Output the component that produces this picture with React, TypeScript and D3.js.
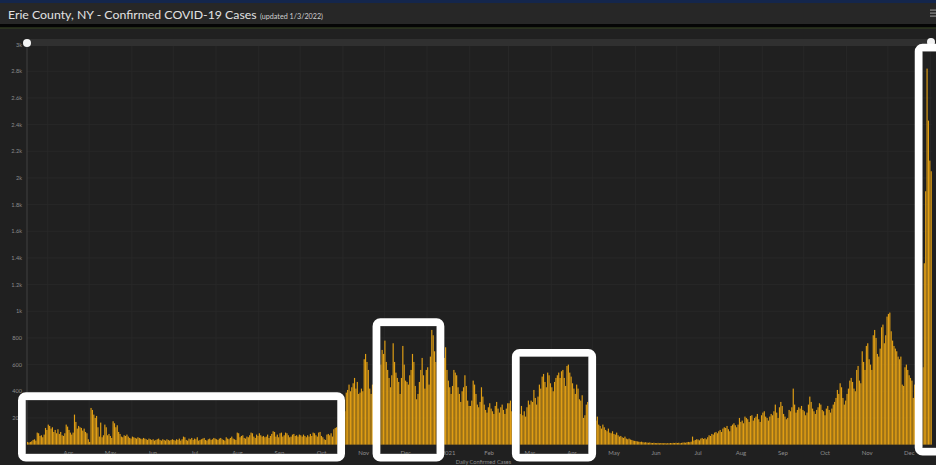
import * as d3 from 'd3'

// daily confirmed cases, Erie County NY
const mar20 = [20, 15, 20, 25, 35, 40, 30, 90, 85, 65, 70, 55, 75, 125, 110]
const apr20 = [150, 140, 120, 130, 95, 110, 85, 115, 80, 95, 70, 65, 85, 150, 135, 110, 90, 75, 90, 225, 170, 120, 140, 130, 125, 105, 120, 95, 85, 40]
const may20 = [20, 275, 260, 225, 200, 215, 130, 60, 165, 55, 70, 150, 130, 70, 80, 65, 50, 175, 160, 130, 145, 95, 80, 60, 55, 70, 65, 75, 60, 50, 45]
const jun20 = [60, 55, 50, 45, 55, 50, 45, 40, 50, 45, 40, 35, 45, 40, 35, 40, 30, 35, 40, 45, 35, 30, 40, 35, 30, 40, 35, 30, 35, 40]
const jul20 = [35, 30, 40, 35, 45, 30, 40, 60, 55, 35, 30, 45, 40, 50, 35, 45, 40, 55, 30, 35, 40, 45, 50, 35, 30, 40, 45, 35, 40, 50, 45]
const aug20 = [40, 35, 45, 50, 40, 35, 30, 55, 45, 40, 50, 60, 45, 40, 35, 90, 85, 55, 65, 70, 50, 45, 60, 55, 70, 90, 85, 60, 50, 75, 65]
const sep20 = [85, 70, 60, 65, 55, 60, 75, 50, 65, 80, 100, 95, 60, 75, 55, 85, 90, 60, 70, 90, 85, 70, 55, 60, 75, 80, 65, 70, 60, 75]
const oct20 = [70, 60, 75, 65, 55, 70, 60, 80, 65, 90, 85, 70, 60, 90, 95, 65, 55, 40, 35, 75, 80, 70, 85, 60, 115, 125, 130, 140, 180, 210, 250]
const nov20 = [260, 250, 390, 410, 450, 400, 430, 460, 500, 420, 470, 380, 390, 420, 400, 640, 680, 620, 560, 420, 380, 450, 500, 600, 550, 520, 480, 600, 710, 680]
const dec20 = [780, 620, 560, 500, 430, 520, 760, 620, 540, 500, 470, 380, 500, 740, 600, 480, 470, 450, 520, 560, 680, 620, 440, 340, 380, 470, 560, 650, 520, 420, 560]
const jan21 = [580, 450, 660, 860, 820, 700, 620, 600, 520, 500, 560, 680, 650, 730, 560, 480, 430, 380, 440, 560, 540, 520, 430, 380, 320, 400, 430, 520, 440, 330, 290]
const feb21 = [290, 330, 480, 450, 380, 300, 280, 320, 430, 360, 300, 260, 240, 280, 310, 270, 250, 230, 290, 320, 270, 240, 280, 300, 260, 230, 270, 310]
const mar21 = [310, 330, 250, 240, 200, 230, 290, 260, 230, 290, 220, 250, 210, 280, 330, 300, 330, 320, 410, 350, 300, 360, 450, 420, 510, 530, 470, 430, 540, 520, 460]
const apr21 = [430, 400, 470, 500, 520, 540, 500, 550, 560, 500, 440, 590, 600, 540, 510, 460, 420, 380, 450, 420, 340, 330, 370, 200, 220, 300, 320, 280, 260, 240]
const may21 = [230, 200, 180, 210, 150, 140, 120, 150, 130, 110, 100, 120, 90, 85, 100, 80, 75, 90, 70, 60, 65, 55, 50, 60, 45, 40, 45, 38, 35, 30, 28]
const jun21 = [26, 24, 22, 20, 22, 18, 16, 18, 15, 14, 16, 13, 12, 14, 12, 11, 13, 10, 12, 11, 10, 12, 9, 11, 10, 12, 11, 13, 12, 14]
const jul21 = [12, 14, 10, 13, 15, 16, 14, 18, 20, 18, 22, 60, 30, 35, 40, 38, 32, 45, 50, 42, 48, 40, 55, 70, 65, 80, 75, 90, 95, 85, 100]
const aug21 = [110, 95, 120, 130, 125, 140, 115, 100, 140, 150, 160, 145, 130, 150, 200, 170, 180, 160, 210, 200, 190, 170, 215, 220, 180, 200, 210, 230, 190, 170, 220]
const sep21 = [240, 250, 210, 200, 180, 210, 230, 220, 250, 300, 240, 200, 280, 320, 290, 230, 210, 190, 200, 260, 250, 280, 420, 300, 240, 260, 280, 270, 290, 260]
const oct21 = [250, 220, 240, 300, 360, 320, 270, 250, 230, 260, 280, 310, 300, 260, 250, 220, 270, 290, 260, 240, 270, 300, 320, 350, 410, 380, 460, 430, 350, 300, 330]
const nov21 = [380, 420, 480, 500, 470, 420, 400, 560, 590, 480, 460, 700, 620, 560, 740, 760, 640, 600, 560, 820, 860, 800, 680, 660, 720, 880, 900, 760, 820, 960]
const dec21 = [980, 990, 850, 780, 740, 720, 700, 660, 640, 660, 450, 440, 580, 600, 560, 520, 500, 480, 350, 450, 520, 600, 650, 700, 620, 580, 1360, 1900, 2820, 2430, 2130]
const jan22 = [2050]

const SERIES = [
  ['2020-03-17', mar20], ['2020-04-01', apr20], ['2020-05-01', may20], ['2020-06-01', jun20],
  ['2020-07-01', jul20], ['2020-08-01', aug20], ['2020-09-01', sep20], ['2020-10-01', oct20],
  ['2020-11-01', nov20], ['2020-12-01', dec20], ['2021-01-01', jan21], ['2021-02-01', feb21],
  ['2021-03-01', mar21], ['2021-04-01', apr21], ['2021-05-01', may21], ['2021-06-01', jun21],
  ['2021-07-01', jul21], ['2021-08-01', aug21], ['2021-09-01', sep21], ['2021-10-01', oct21],
  ['2021-11-01', nov21], ['2021-12-01', dec21], ['2022-01-01', jan22]
] as [string, number[]][]

const MONTH_LABELS = ['Apr', 'May', 'Jun', 'Jul', 'Aug', 'Sep', 'Oct', 'Nov', 'Dec', '2021', 'Feb', 'Mar',
  'Apr', 'May', 'Jun', 'Jul', 'Aug', 'Sep', 'Oct', 'Nov', 'Dec']
const Y_TICKS = [0, 200, 400, 600, 800, 1000, 1200, 1400, 1600, 1800, 2000, 2200, 2400, 2600, 2800, 3000]

// highlight boxes drawn over the screenshot: [from, to, top value, bottom value]
const HIGHLIGHTS = [
  ['2020-03-16', '2020-10-28', 335, -70],
  ['2020-11-28', '2021-01-08', 890, -70],
  ['2021-03-09', '2021-04-28', 660, -70],
  ['2021-12-26', '2022-01-15', 2950, -25]
] as [string, string, number, number][]

const W = 936
const H = 465
const BAR = '#e09e14'

const parse = d3.timeParse('%Y-%m-%d')

const days = SERIES.flatMap(([start, vals]) => {
  const s = parse(start)!
  return vals.map((v, i) => ({ date: d3.timeDay.offset(s, i), value: v }))
})

const fmtY = (v: number) => (v >= 1000 ? `${+(v / 1000).toFixed(1)}k` : `${v}`)

export default function App() {
  const x = d3.scaleTime()
    .domain([parse('2020-03-17')!, parse('2022-01-02')!])
    .range([27, 932])
  const y = d3.scaleLinear().domain([0, 3000]).range([444.6, 44.6])

  const months = d3.timeMonth.range(parse('2020-04-01')!, parse('2022-01-01')!)
  const grid = d3.timeMonth.range(parse('2020-04-01')!, parse('2022-01-02')!)

  const bw = (x(parse('2020-04-02')!) - x(parse('2020-04-01')!)) * 0.85

  return (
    <div>
      <style>{`html,body{margin:0;padding:0;background:#202020;overflow:hidden}`}</style>
      <svg width={W} height={H} style={{ display: 'block' }} fontFamily="Lato, 'Noto Sans', sans-serif">
        <rect width={W} height={H} fill="#202020" />
        {/* header */}
        <rect width={W} height={3} fill="#14264c" />
        <rect y={3} width={W} height={21} fill="#272727" />
        <rect y={24} width={W} height={3.5} fill="#050505" />
        <rect y={27.5} width={W} height={1} fill="#34431f" />
        <text x={8} y={19} fontSize={12.3} fill="#e2e2e2">
          Erie County, NY - Confirmed COVID-19 Cases
        </text>
        <text x={260} y={18.5} fontSize={7.2} fill="#cfcfcf">(updated 1/3/2022)</text>
        {[10, 13, 16].map(yy => (
          <rect key={yy} x={930} y={yy - 0.5} width={6} height={1.2} fill="#8a8a8a" />
        ))}

        {/* grid */}
        {Y_TICKS.map(t => (
          <line key={t} x1={27} x2={932} y1={y(t)} y2={y(t)} stroke="#2a2a2a" strokeWidth={0.8} />
        ))}
        {grid.map(d => (
          <line key={+d} x1={x(d)} x2={x(d)} y1={y(3000)} y2={y(0)} stroke="#2a2a2a" strokeWidth={0.8} />
        ))}

        {/* scrollbar */}
        <rect x={27} y={39} width={905} height={7} fill="#303030" />
        <line x1={27} x2={27} y1={44} y2={y(0)} stroke="#4a4a4a" strokeWidth={0.8} />

        {/* bars */}
        {days.map(d => (
          <rect
            key={+d.date}
            x={x(d.date)}
            y={y(d.value)}
            width={bw}
            height={y(0) - y(d.value)}
            fill={BAR}
          />
        ))}

        {/* y labels */}
        {Y_TICKS.map(t => (
          <text key={t} x={22} y={y(t)} dy="0.35em" fontSize={5.6} fill="#8c8c8c" textAnchor="end">
            {fmtY(t)}
          </text>
        ))}

        {/* x labels at mid-month */}
        {months.map((m, i) => {
          const next = d3.timeMonth.offset(m, 1)
          return (
            <text key={+m} x={(x(m) + x(next)) / 2} y={454.5} fontSize={6} fill="#8c8c8c" textAnchor="middle">
              {MONTH_LABELS[i]}
            </text>
          )
        })}
        <text x={(27 + 932) / 2 + 4} y={463.5} fontSize={5.6} fill="#8c8c8c" textAnchor="middle">
          Daily Confirmed Cases
        </text>

        {/* scrollbar handles */}
        <circle cx={27} cy={43} r={4} fill="#f4f4f4" />
        <circle cx={931} cy={42} r={4} fill="#f4f4f4" />

        {/* highlight boxes */}
        {HIGHLIGHTS.map(([from, to, top, bottom], i) => {
          const x0 = x(parse(from)!)
          const x1 = x(parse(to)!)
          const y0 = y(top)
          const y1 = y(bottom)
          return (
            <g key={i}>
              <rect x={x0} y={y0} width={x1 - x0} height={y1 - y0} fill="none" stroke="#777" strokeWidth={0.8} />
              <rect
                x={x0 - 3.8}
                y={y0 - 3.8}
                width={x1 - x0 + 7.6}
                height={y1 - y0 + 7.6}
                rx={4}
                fill="none"
                stroke="#fff"
                strokeWidth={7.6}
              />
            </g>
          )
        })}
      </svg>
    </div>
  )
}
